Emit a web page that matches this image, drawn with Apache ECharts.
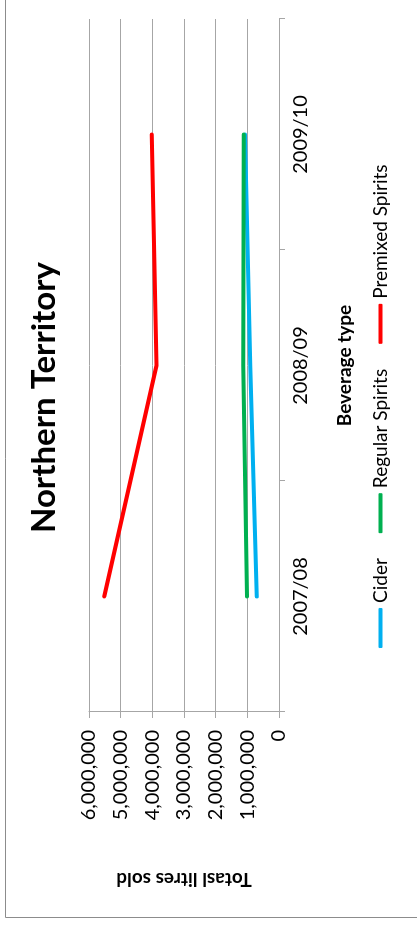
<!DOCTYPE html>
<html>
<head>
<meta charset="utf-8">
<title>Northern Territory</title>
<script src="https://cdn.jsdelivr.net/npm/echarts@6/dist/echarts.min.js"></script>
<style>
	html, body {
		margin: 0;
		padding: 0;
		width: 417px;
		height: 925px;
		overflow: hidden;
		background: #fff;
	}
	/* chart is drawn landscape, then turned a quarter to the left */
	#myChart {
		position: absolute;
		left: 0;
		top: 0;
		width: 925px;
		height: 417px;
		transform-origin: 0 0;
		transform: translate(0, 925px) rotate(-90deg);
	}
</style>
</head>
<body>
<div id="myChart"></div>
<script>
	var years = ['2007/08', '2008/09', '2009/10'];
	var cider = [700000, 910000, 1070000];
	var regularSpirits = [1010000, 1130000, 1110000];
	var premixedSpirits = [5520000, 3870000, 4020000];
	var yMax = 6000000;
	var yStep = 1000000;

	var font = 'Lato';
	var gridColor = '#a6a6a6';

	function fmt(v) {
		return Number(v).toLocaleString('en-US');
	}

	function line(name, data, color) {
		return {
			name: name,
			type: 'line',
			data: data,
			symbol: 'none',
			color: color,
			lineStyle: {
				color: color,
				width: 4,
				cap: 'round',
				join: 'round'
			}
		};
	}

	var myChart = echarts.init(document.getElementById('myChart'));
	var option = {
		backgroundColor: '#fff',
		animation: false,
		title: {
			text: 'Northern Territory',
			left: 392,
			top: 28,
			padding: 0,
			textStyle: {
				fontFamily: font,
				fontSize: 33,
				fontWeight: 'bold',
				color: '#000'
			}
		},
		legend: {
			data: ['Cider', 'Regular Spirits', 'Premixed Spirits'],
			left: 277,
			top: 371,
			padding: 0,
			icon: 'roundRect',
			itemWidth: 40,
			itemHeight: 4,
			itemGap: 25,
			textStyle: {
				fontFamily: font,
				fontSize: 19,
				color: '#000'
			}
		},
		//绘图区
		grid: {
			left: 213,
			right: 19,
			top: 89,
			bottom: 138
		},
		xAxis: {
			type: 'category',
			data: years,
			boundaryGap: true,
			name: 'Beverage type',
			nameLocation: 'middle',
			nameGap: 56,
			nameTextStyle: {
				fontFamily: font,
				fontSize: 19,
				fontWeight: 'bold',
				color: '#000'
			},
			axisLine: {
				lineStyle: {
					color: gridColor,
					width: 1
				}
			},
			axisTick: {
				show: true,
				length: 6,
				lineStyle: {
					color: gridColor
				}
			},
			axisLabel: {
				fontFamily: font,
				fontSize: 20,
				color: '#000',
				margin: 12
			}
		},
		yAxis: {
			type: 'value',
			min: 0,
			max: yMax,
			interval: yStep,
			name: 'Totasl litres sold',
			nameLocation: 'middle',
			nameGap: 158,
			nameTextStyle: {
				fontFamily: font,
				fontSize: 19,
				fontWeight: 'bold',
				color: '#000'
			},
			axisLine: {
				show: true,
				lineStyle: {
					color: gridColor,
					width: 1
				}
			},
			axisTick: {
				show: true,
				length: 6,
				lineStyle: {
					color: gridColor
				}
			},
			axisLabel: {
				fontFamily: font,
				fontSize: 20,
				color: '#000',
				margin: 18,
				formatter: fmt
			},
			splitLine: {
				lineStyle: {
					color: gridColor,
					width: 1
				}
			}
		},
		//外框
		graphic: [{
			type: 'rect',
			shape: {
				x: 7.5,
				y: 5.5,
				width: 1200,
				height: 800
			},
			style: {
				fill: null,
				stroke: '#8c8c8c',
				lineWidth: 1
			},
			silent: true
		}],
		series: [
			line('Cider', cider, '#00b0f0'),
			line('Regular Spirits', regularSpirits, '#00b050'),
			line('Premixed Spirits', premixedSpirits, '#ff0000')
		]
	};
	myChart.setOption(option);
</script>
</body>
</html>
